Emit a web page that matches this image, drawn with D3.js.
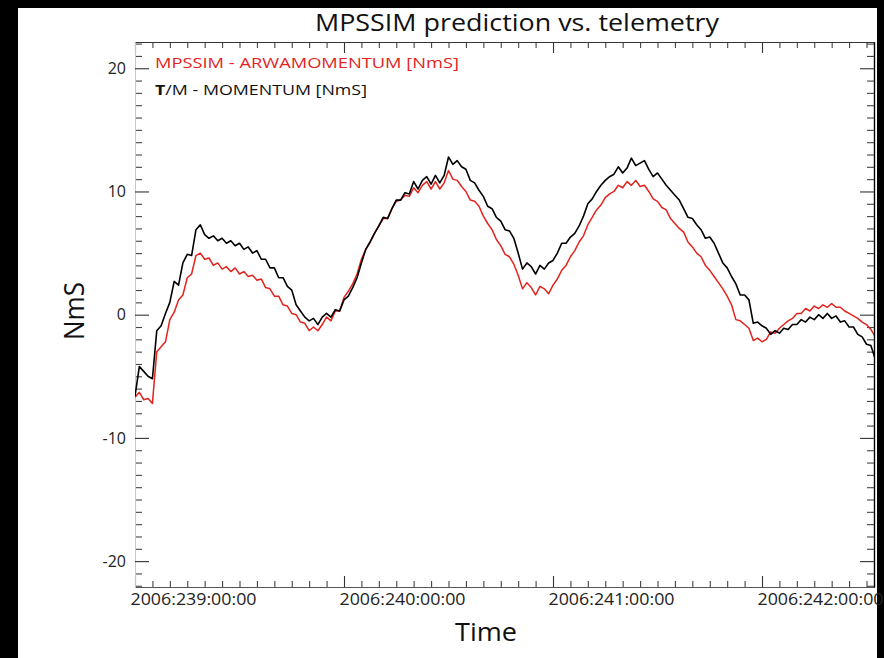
<!DOCTYPE html>
<html><head><meta charset="utf-8">
<script src="https://cdn.jsdelivr.net/npm/d3@7"></script>
<style>
html,body{margin:0;padding:0;background:#000;}
svg{display:block;}
text{font-family:"Open Sans",sans-serif;}
</style>
</head><body><svg id="c" width="884" height="658"></svg>
<script>
// hours since 2006:239:00:00, sampled every half hour
const sampleStepHours = 0.5;
const telemetryMomentum = [
-6.6,-4.2,-4.6,-5.0,-5.2, -1.3,-0.9,0.1,1.0,2.7, 2.4,4.2,4.9,4.8,6.9, 7.3,6.5,6.2,6.4,6.0,
6.2,5.8,6.0,5.6,5.8, 5.3,5.5,5.0,5.2,4.5, 4.5,3.8,3.8,3.0,3.0, 2.3,2.0,0.8,0.3,-0.2,
-0.5,-0.3,-0.8,-0.2,0.1, -0.2,0.4,0.3,1.2,1.5, 2.2,3.0,4.2,5.3,5.9, 6.6,7.2,7.9,7.8,8.6,
9.3,9.3,9.9,9.8,10.8, 10.2,10.9,11.2,10.6,11.3, 10.7,11.3,12.8,12.2,12.5, 12.0,11.8,10.9,10.7,10.1,
9.6,8.8,8.6,7.9,7.6, 6.9,6.8,6.2,5.0,3.7, 4.2,3.9,3.3,4.0,3.7, 4.2,4.4,5.0,5.8,5.8,
6.3,6.6,7.2,8.0,9.0, 9.4,10.0,10.5,10.9,11.2, 11.4,12.0,11.5,11.9,12.7, 12.1,12.3,12.5,11.8,11.2,
11.5,11.0,10.5,10.1,9.7, 9.3,8.6,7.9,7.8,7.3, 6.9,6.2,6.3,5.8,5.0, 4.2,3.8,3.1,2.5,1.6,
1.6,1.2,-0.7,-0.6,-0.9, -1.1,-1.6,-1.3,-1.5,-1.1, -1.2,-0.8,-0.8,-0.4,-0.6, -0.2,-0.4,0.0,-0.3,0.1,
-0.3,-0.1,-0.6,-0.5,-1.0, -1.0,-1.6,-1.8,-2.4,-2.5, -3.6
];
const mpssimMomentum = [
-6.7,-6.3,-6.9,-6.8,-7.2, -3.0,-2.6,-2.2,-0.4,0.2, 1.2,1.6,3.0,3.3,4.8, 5.0,4.5,4.6,4.0,4.2,
3.7,3.9,3.5,3.8,3.3, 3.5,3.1,3.2,2.8,2.9, 2.2,2.1,1.5,1.5,0.8, 0.7,0.1,0.0,-0.6,-0.7,
-1.3,-1.0,-1.3,-0.8,-0.2, -0.5,0.3,0.3,1.4,1.9, 2.5,3.3,4.5,5.3,5.9, 6.6,7.2,7.8,7.8,8.6,
9.2,9.3,9.7,9.6,10.3, 9.9,10.5,10.8,10.2,10.8, 10.2,10.7,11.7,11.0,10.9, 10.4,10.0,9.3,9.2,8.8,
8.0,7.4,6.9,6.1,5.6, 4.9,4.7,4.1,3.2,2.1, 2.6,2.2,1.6,2.3,2.1, 1.7,2.4,2.9,3.6,4.0,
4.7,5.2,5.9,6.4,7.3, 7.9,8.5,8.9,9.5,9.8, 10.0,10.5,10.3,10.8,10.5, 10.9,10.4,10.5,10.0,9.4,
9.2,8.7,8.5,7.8,7.4, 7.0,6.7,5.9,5.5,5.0, 4.7,4.0,3.6,3.1,2.6, 2.1,1.5,0.8,-0.4,-0.5,
-0.8,-1.1,-2.1,-1.9,-2.2, -2.0,-1.4,-1.5,-1.1,-0.8, -0.5,-0.3,0.1,0.1,0.5, 0.3,0.7,0.5,0.8,0.6,
0.9,0.6,0.6,0.3,0.1, -0.1,-0.3,-0.6,-0.8,-1.2, -1.8
];
const dayTickHours = [0, 24, 48, 72];
const dayTickLabels = ["2006:239:00:00", "2006:240:00:00", "2006:241:00:00", "2006:242:00:00"];
const yTickValues = [-20, -10, 0, 10, 20];
const legendLabels = ["MPSSIM - ARWAMOMENTUM [NmS]", "T/M - MOMENTUM [NmS]"];
const titleText = "MPSSIM prediction vs. telemetry";
const xTitle = "Time", yTitle = "NmS";

const svg = d3.select("#c");
svg.append("rect").attr("x", 18).attr("y", 8).attr("width", 859).attr("height", 650).attr("fill", "#fff");

const L = 135, R = 874, T = 42, B = 587;
const x = d3.scaleLinear().domain([0, 84.86]).range([L, R]);
const y = d3.scaleLinear().domain([-22.1, 22.13]).range([B, T]);

const minorX = d3.range(0, 85, 2).filter(h => h % 24 !== 0);
const minorY = d3.range(-22, 23, 1).filter(v => v % 10 !== 0);

function styleAxis(g, domainColor, tickColor, w) {
  g.select(".domain").attr("stroke", domainColor).attr("stroke-width", w || 1.2);
  g.selectAll(".tick line").attr("stroke", tickColor).attr("stroke-width", 1.1);
}

// bottom
const gb1 = svg.append("g").attr("transform", `translate(0,${B})`)
  .call(d3.axisBottom(x).tickValues(minorX).tickSize(-6).tickSizeOuter(0).tickFormat(""));
styleAxis(gb1, "#555", "#444");
const gb2 = svg.append("g").attr("transform", `translate(0,${B})`)
  .call(d3.axisBottom(x).tickValues(dayTickHours).tickSize(-11).tickSizeOuter(0)
    .tickFormat((d, i) => dayTickLabels[i]));
styleAxis(gb2, "#555", "#333");
gb2.selectAll(".tick text").attr("text-anchor", "start").attr("x", -5).attr("dy", null).attr("y", 18)
  .attr("font-size", 17).attr("fill", "#222").attr("textLength", 126).attr("lengthAdjust", "spacingAndGlyphs");

// top
const gt1 = svg.append("g").attr("transform", `translate(0,${T})`)
  .call(d3.axisTop(x).tickValues(minorX).tickSize(-6).tickSizeOuter(0).tickFormat(""));
styleAxis(gt1, "#333", "#444");
const gt2 = svg.append("g").attr("transform", `translate(0,${T})`)
  .call(d3.axisTop(x).tickValues(dayTickHours).tickSize(-11).tickSizeOuter(0).tickFormat(""));
styleAxis(gt2, "#333", "#333");

// left
const gl1 = svg.append("g").attr("transform", `translate(${L},0)`)
  .call(d3.axisLeft(y).tickValues(minorY).tickSize(-7).tickSizeOuter(0).tickFormat(""));
styleAxis(gl1, "#c8c8c8", "#444", 1);
const gl2 = svg.append("g").attr("transform", `translate(${L},0)`)
  .call(d3.axisLeft(y).tickValues(yTickValues).tickSize(-14).tickSizeOuter(0).tickPadding(9).tickFormat(d => String(d)));
styleAxis(gl2, "#c8c8c8", "#333", 1);
gl2.selectAll(".tick text").attr("font-size", 16).attr("fill", "#222");

// right
const gr1 = svg.append("g").attr("transform", `translate(${R},0)`)
  .call(d3.axisRight(y).tickValues(minorY).tickSize(-7).tickSizeOuter(0).tickFormat(""));
styleAxis(gr1, "#000", "#444");
const gr2 = svg.append("g").attr("transform", `translate(${R},0)`)
  .call(d3.axisRight(y).tickValues(yTickValues).tickSize(-14).tickSizeOuter(0).tickFormat(""));
styleAxis(gr2, "#000", "#333");
svg.selectAll(".tick text").attr("font-family", "Open Sans, sans-serif");

// lines
svg.append("clipPath").attr("id", "plotclip").append("rect")
  .attr("x", L).attr("y", T).attr("width", R - L).attr("height", B - T);
const line = d3.line().x((d, i) => x(i * sampleStepHours)).y(d => y(d));
const gLines = svg.append("g").attr("clip-path", "url(#plotclip)");
gLines.append("path").datum(mpssimMomentum).attr("d", line)
  .attr("fill", "none").attr("stroke", "#e3231d").attr("stroke-width", 1.5).attr("stroke-linejoin", "round");
gLines.append("path").datum(telemetryMomentum).attr("d", line)
  .attr("fill", "none").attr("stroke", "#000").attr("stroke-width", 1.6).attr("stroke-linejoin", "round");

// legend
svg.append("text").attr("x", 155).attr("y", 68).attr("font-size", 15).attr("fill", "#e3231d")
  .attr("textLength", 304).attr("lengthAdjust", "spacingAndGlyphs").text(legendLabels[0]);
const lt = svg.append("text").attr("x", 155).attr("y", 95).attr("font-size", 15).attr("fill", "#111")
  .attr("textLength", 212).attr("lengthAdjust", "spacingAndGlyphs");
lt.append("tspan").attr("font-weight", "bold").text(legendLabels[1].slice(0, 1));
lt.append("tspan").text(legendLabels[1].slice(1));

// titles
svg.append("text").attr("x", 517).attr("y", 31).attr("text-anchor", "middle").attr("font-size", 24)
  .attr("fill", "#111").attr("textLength", 404).attr("lengthAdjust", "spacingAndGlyphs").text(titleText);
svg.append("text").attr("x", 486).attr("y", 641).attr("text-anchor", "middle").attr("font-size", 25)
  .attr("fill", "#111").attr("textLength", 62).attr("lengthAdjust", "spacingAndGlyphs").text(xTitle);
svg.append("text").attr("transform", "translate(84,311) rotate(-90)").attr("text-anchor", "middle")
  .attr("font-size", 27).attr("fill", "#111").attr("textLength", 58).attr("lengthAdjust", "spacingAndGlyphs").text(yTitle);
</script>
</body></html>
